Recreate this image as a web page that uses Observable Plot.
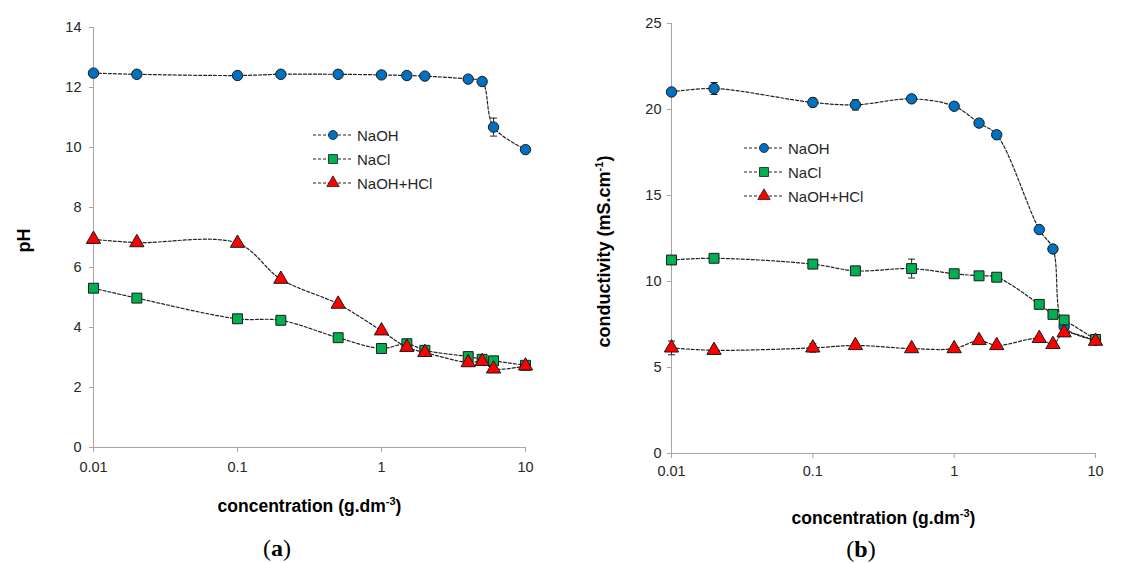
<!DOCTYPE html>
<html><head><meta charset="utf-8">
<script src="https://cdn.jsdelivr.net/npm/d3@7"></script>
<script src="https://cdn.jsdelivr.net/npm/@observablehq/plot@0.6"></script>
<style>
body{margin:0;background:#fff;font-family:"Liberation Sans",Arial,sans-serif;}
#wrap{position:relative;width:1121px;height:563px;overflow:hidden;background:#fff;}
.panel{position:absolute;top:0;}
.cap{position:absolute;font-family:"Liberation Serif",serif;font-size:24px;line-height:1;color:#000;transform:translate(-50%,-50%);white-space:nowrap;}
.legend{position:absolute;font-size:15px;color:#262626;font-family:"Liberation Sans",Arial,sans-serif;}
.legend .row{display:flex;align-items:center;height:24px;}
.legend .row span{margin-left:4px;}
</style></head><body>
<div id="wrap"></div>
<script>
// ---- data ----
const conc = [0.01, 0.02, 0.1, 0.2, 0.5, 1, 1.5, 2, 4, 5, 6, 10];
const seriesNames = ["NaOH", "NaCl", "NaOH+HCl"];
const seriesColors = ["#0070C0", "#00B050", "#FF0000"];
const seriesSymbols = ["circle", "square", "triangle"];

const pH_NaOH    = [12.48, 12.44, 12.40, 12.44, 12.44, 12.42, 12.40, 12.38, 12.28, 12.20, 10.68, 9.93];
const pH_NaCl    = [5.31, 4.98, 4.29, 4.24, 3.66, 3.30, 3.46, 3.24, 3.03, 2.94, 2.89, 2.74];
const pH_NaOHHCl = [6.94, 6.83, 6.81, 5.61, 4.78, 3.89, 3.34, 3.17, 2.83, 2.87, 2.62, 2.72];
const pHErr_NaOH    = [0, 0, 0, 0, 0, 0, 0, 0, 0, 0, 0.3, 0];
const pHErr_NaCl    = [0, 0, 0, 0, 0, 0, 0, 0, 0, 0, 0, 0];
const pHErr_NaOHHCl = [0, 0, 0, 0, 0, 0, 0, 0, 0, 0, 0, 0];

const cond_NaOH    = [21.02, 21.22, 20.41, 20.27, 20.62, 20.19, 19.21, 18.53, 13.02, 11.89, 7.37, 6.60];
const cond_NaCl    = [11.25, 11.35, 11.01, 10.62, 10.75, 10.45, 10.33, 10.25, 8.67, 8.09, 7.76, 6.63];
const cond_NaOHHCl = [6.14, 6.00, 6.14, 6.28, 6.10, 6.10, 6.57, 6.28, 6.69, 6.34, 7.02, 6.53];
const condErr_NaOH    = [0.1, 0.35, 0.25, 0.3, 0.2, 0.15, 0, 0, 0, 0, 0, 0];
const condErr_NaCl    = [0, 0, 0, 0, 0.55, 0, 0, 0, 0, 0, 0, 0];
const condErr_NaOHHCl = [0.4, 0, 0.25, 0, 0, 0, 0, 0, 0, 0, 0, 0];

const xTicks = [0.01, 0.1, 1, 10];
const pHTicks = [0, 2, 4, 6, 8, 10, 12, 14];
const condTicks = [0, 5, 10, 15, 20, 25];

// ---- helpers ----
const capSymbol = {draw(ctx, size) { const r = Math.sqrt(size / Math.PI); ctx.moveTo(-r, 0); ctx.lineTo(r, 0); }};
const markerR = {circle: 5.2, square: 5.6, triangle: 5.3};

function makePanel(cfg) {
  const marks = [
    Plot.ruleY([cfg.yDomain[0]], {stroke: "#A6A6A6"}),
    Plot.ruleX([xTicks[0]], {stroke: "#A6A6A6"}),
    Plot.axisX(xTicks, {tickFormat: d => String(d), tickSize: 5, tickPadding: cfg.xTickPadding, stroke: "#A6A6A6", fill: "#262626",
      label: cfg.xLabel, labelAnchor: "center", labelOffset: cfg.xLabelOffset, labelArrow: "none"}),
    Plot.axisY(cfg.yTicks, {tickSize: 4, tickPadding: cfg.yTickPadding, stroke: "#A6A6A6", fill: "#262626",
      label: cfg.yLabel, labelAnchor: "center", labelOffset: cfg.yLabelOffset, labelArrow: "none"})
  ];
  seriesNames.forEach((name, i) => {
    const rows = conc.map((c, j) => ({conc: c, value: cfg.values[i][j], err: cfg.errs[i][j]}));
    const errRows = rows.filter(d => d.err > 0);
    marks.push(
      Plot.ruleX(errRows, {x: "conc", y1: d => d.value - d.err, y2: d => d.value + d.err, stroke: "#222", strokeWidth: 1}),
      Plot.dot(errRows, {x: "conc", y: d => d.value + d.err, symbol: capSymbol, r: 3.5, stroke: "#222", strokeWidth: 1}),
      Plot.dot(errRows, {x: "conc", y: d => d.value - d.err, symbol: capSymbol, r: 3.5, stroke: "#222", strokeWidth: 1}),
      Plot.line(rows, {x: "conc", y: "value", curve: "catmull-rom", stroke: "#222", strokeWidth: 1.2, strokeDasharray: "3,2"}),
      Plot.dot(rows, {x: "conc", y: "value", symbol: seriesSymbols[i], r: markerR[seriesSymbols[i]], fill: seriesColors[i], stroke: "#1a1a1a", strokeWidth: 1})
    );
  });
  const svg = Plot.plot({
    width: cfg.width, height: cfg.height,
    marginTop: cfg.marginTop, marginBottom: cfg.marginBottom, marginLeft: cfg.marginLeft, marginRight: cfg.marginRight,
    x: {type: "log", domain: [xTicks[0], xTicks[xTicks.length - 1]]},
    y: {domain: cfg.yDomain},
    style: {fontFamily: '"Liberation Sans", Arial, sans-serif', fontSize: "14.5px", color: "#262626", background: "transparent", overflow: "visible"},
    marks
  });
  // style axis labels (bold) and superscripts
  svg.querySelectorAll("text").forEach(t => {
    const s = t.textContent;
    if (s === cfg.xLabel || s === cfg.yLabel) {
      t.setAttribute("font-weight", "bold");
      t.setAttribute("font-size", s === cfg.xLabel ? "17.5px" : "18px");
      t.setAttribute("fill", "#000");
      if (s === cfg.yLabel && cfg.yLabelShift) {
        const tr = t.getAttribute("transform") || "";
        t.setAttribute("transform", tr + ` translate(${-cfg.yLabelShift},0)`);
      }
      const m = s.match(/^(.*\.[a-z]+)(-\d)(\))$/);
      if (m) {
        while (t.firstChild) t.removeChild(t.firstChild);
        const ns = "http://www.w3.org/2000/svg";
        const a = document.createElementNS(ns, "tspan"); a.textContent = m[1];
        const b = document.createElementNS(ns, "tspan"); b.textContent = m[2]; b.setAttribute("font-size", "11px"); b.setAttribute("dy", "-7");
        const c = document.createElementNS(ns, "tspan"); c.textContent = m[3]; c.setAttribute("dy", "7");
        t.append(a, b, c);
      }
    }
  });
  return svg;
}

function legendEl(left, top) {
  const div = document.createElement("div");
  div.className = "legend";
  div.style.left = left + "px"; div.style.top = top + "px";
  const sizes = {circle: 64, square: 81, triangle: 66};
  seriesNames.forEach((name, i) => {
    const row = document.createElement("div"); row.className = "row";
    const sym = d3.symbol(seriesSymbols[i] === "circle" ? d3.symbolCircle : seriesSymbols[i] === "square" ? d3.symbolSquare : d3.symbolTriangle, sizes[seriesSymbols[i]])();
    row.innerHTML = `<svg width="40" height="24"><line x1="0" x2="40" y1="12" y2="12" stroke="#222" stroke-width="1.2" stroke-dasharray="3,2"/>` +
      `<path d="${sym}" transform="translate(20,12)" fill="${seriesColors[i]}" stroke="#1a1a1a" stroke-width="0.8"/></svg><span>${name}</span>`;
    div.appendChild(row);
  });
  return div;
}

const wrap = document.getElementById("wrap");

const left = document.createElement("div"); left.className = "panel"; left.style.left = "0px";
left.appendChild(makePanel({
  values: [pH_NaOH, pH_NaCl, pH_NaOHHCl], errs: [pHErr_NaOH, pHErr_NaCl, pHErr_NaOHHCl],
  yDomain: [0, 14], yTicks: pHTicks, yLabel: "pH", xLabel: "concentration (g.dm-3)",
  width: 560, height: 525, marginTop: 27, marginBottom: 78, marginLeft: 93, marginRight: 35,
  xTickPadding: 9, yTickPadding: 8, xLabelOffset: 64, yLabelOffset: 76, yLabelShift: 3
}));
wrap.appendChild(left);

const right = document.createElement("div"); right.className = "panel"; right.style.left = "560px";
right.appendChild(makePanel({
  values: [cond_NaOH, cond_NaCl, cond_NaOHHCl], errs: [condErr_NaOH, condErr_NaCl, condErr_NaOHHCl],
  yDomain: [0, 25], yTicks: condTicks, yLabel: "conductivity (mS.cm-1)", xLabel: "concentration (g.dm-3)",
  width: 561, height: 530, marginTop: 23, marginBottom: 77, marginLeft: 111, marginRight: 26,
  xTickPadding: 7, yTickPadding: 6, xLabelOffset: 70, yLabelOffset: 74, yLabelShift: 13
}));
wrap.appendChild(right);

wrap.appendChild(legendEl(313, 123));
wrap.appendChild(legendEl(744, 136));

const capA = document.createElement("div"); capA.className = "cap"; capA.style.left = "277px"; capA.style.top = "548px"; capA.innerHTML = "(<b>a</b>)";
const capB = document.createElement("div"); capB.className = "cap"; capB.style.left = "861px"; capB.style.top = "549px"; capB.innerHTML = "(<b>b</b>)";
wrap.append(capA, capB);
</script>
</body></html>
